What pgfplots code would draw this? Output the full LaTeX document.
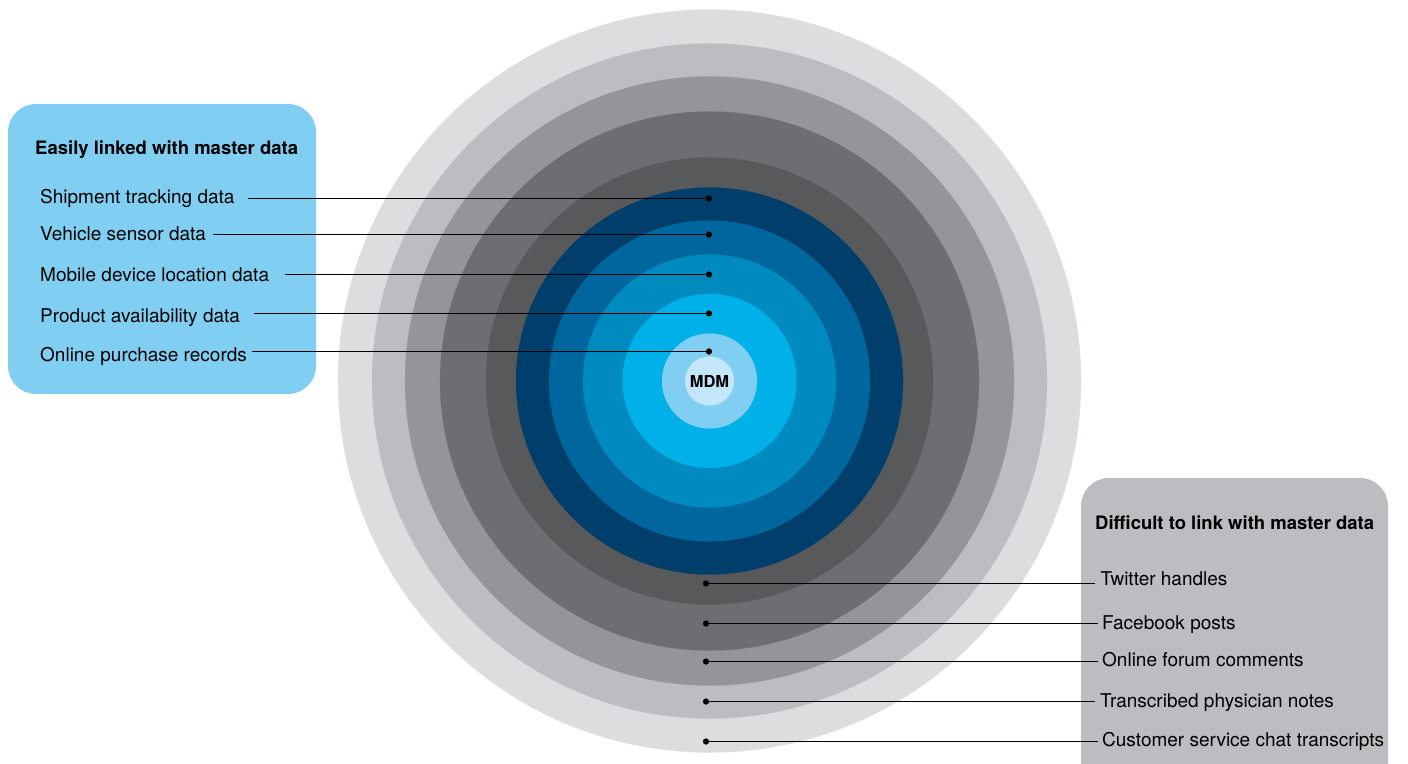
\documentclass[border=0pt]{standalone}
\usepackage{fontspec}
\setmainfont{TeX Gyre Heros}
\usepackage{pgfplots}
\pgfplotsset{compat=1.18}

\definecolor{ringA}{RGB}{220,221,223}
\definecolor{ringB}{RGB}{188,189,192}
\definecolor{ringC}{RGB}{147,149,152}
\definecolor{ringD}{RGB}{109,110,113}
\definecolor{ringE}{RGB}{88,89,91}
\definecolor{ringF}{RGB}{0,62,107}
\definecolor{ringG}{RGB}{0,103,158}
\definecolor{ringH}{RGB}{0,139,192}
\definecolor{ringI}{RGB}{0,176,232}
\definecolor{ringJ}{RGB}{128,207,243}
\definecolor{ringK}{RGB}{196,230,249}
\definecolor{boxblue}{RGB}{128,207,243}
\definecolor{boxgray}{RGB}{188,189,192}

\newcommand{\reg}{\fontsize{19}{23}\selectfont}
\newcommand{\hd}{\fontsize{18.5}{22}\selectfont\bfseries}

\pgfplotsset{
  ring/.style n args={2}{only marks, mark=*, mark size=#1pt, color=#2,
    mark options={solid, fill=#2, draw=#2, line width=0.1pt}},
  leader/.style={black, line width=1.8pt, mark=*, mark size=3pt,
    mark options={fill=black, draw=black, line width=0.1pt}},
}

\begin{document}
\begin{tikzpicture}
\begin{axis}[
    x=1pt, y=1pt,
    xmin=0, xmax=1408, ymin=0, ymax=763,
    y dir=reverse,
    hide axis,
    clip=true,
    clip marker paths=true,
]
\path (axis cs:0,0) rectangle (axis cs:1408,763);

% boxes
\fill[boxblue, rounded corners=28pt] (axis cs:8,104) rectangle (axis cs:316,394);
\fill[boxgray, rounded corners=28pt] (axis cs:1081,478) rectangle (axis cs:1388,820);

% rings, outer to inner (radius in px)
\addplot[ring={371.5}{ringA}] coordinates {(709.5,381)};
\addplot[ring={337.5}{ringB}] coordinates {(709.5,381)};
\addplot[ring={304.5}{ringC}] coordinates {(709.5,381)};
\addplot[ring={269.5}{ringD}] coordinates {(709.5,381)};
\addplot[ring={223.5}{ringE}] coordinates {(709.5,381)};
\addplot[ring={193.5}{ringF}] coordinates {(709.5,381)};
\addplot[ring={160.5}{ringG}] coordinates {(709.5,381)};
\addplot[ring={126.5}{ringH}] coordinates {(709.5,381)};
\addplot[ring={87}{ringI}] coordinates {(709.5,381)};
\addplot[ring={47.5}{ringJ}] coordinates {(709.5,381)};
\addplot[ring={24.5}{ringK}] coordinates {(709.5,381)};

% left leaders
\addplot[leader, mark indices={2}] coordinates {(248,198.5) (709,198.5)};
\addplot[leader, mark indices={2}] coordinates {(213,234.5) (709,234.5)};
\addplot[leader, mark indices={2}] coordinates {(285,274.5) (709,274.5)};
\addplot[leader, mark indices={2}] coordinates {(254,313.5) (709,313.5)};
\addplot[leader, mark indices={2}] coordinates {(252,351.5) (709,351.5)};

% right leaders
\addplot[leader, mark indices={1}] coordinates {(706,583.5) (1095,583.5)};
\addplot[leader, mark indices={1}] coordinates {(706,623.5) (1098,623.5)};
\addplot[leader, mark indices={1}] coordinates {(706,661.5) (1098,661.5)};
\addplot[leader, mark indices={1}] coordinates {(706,701.5) (1095,701.5)};
\addplot[leader, mark indices={1}] coordinates {(706,741.5) (1098,741.5)};

% texts
\node[anchor=base west, font=\hd, inner sep=0pt] at (axis cs:35,154.3) {Easily linked with master data};
\node[anchor=base west, font=\reg, inner sep=0pt] at (axis cs:40,203.3) {Shipment tracking data};
\node[anchor=base west, font=\reg, inner sep=0pt] at (axis cs:40,240.3) {Vehicle sensor data};
\node[anchor=base west, font=\reg, inner sep=0pt] at (axis cs:40,281) {Mobile device location data};
\node[anchor=base west, font=\reg, inner sep=0pt] at (axis cs:40,322.3) {Product availability data};
\node[anchor=base west, font=\reg, inner sep=0pt] at (axis cs:40,361.7) {Online purchase records};

\node[anchor=base west, font=\hd, inner sep=0pt] at (axis cs:1095,529.3) {Difficult to link with master data};
\node[anchor=base west, font=\reg, inner sep=0pt] at (axis cs:1100.5,585) {Twitter handles};
\node[anchor=base west, font=\reg, inner sep=0pt] at (axis cs:1102,629.3) {Facebook posts};
\node[anchor=base west, font=\reg, inner sep=0pt] at (axis cs:1102,666.7) {Online forum comments};
\node[anchor=base west, font=\reg, inner sep=0pt] at (axis cs:1100,707.3) {Transcribed physician notes};
\node[anchor=base west, font=\reg, inner sep=0pt] at (axis cs:1102,746.7) {Customer service chat transcripts};

\node[font=\fontsize{16.5}{20}\selectfont\bfseries, inner sep=0pt] at (axis cs:709.5,381) {MDM};
\end{axis}
\end{tikzpicture}
\end{document}
